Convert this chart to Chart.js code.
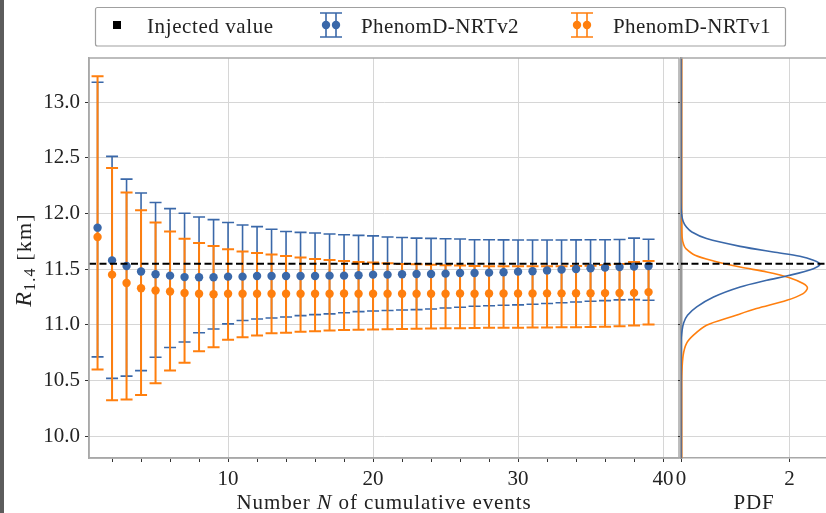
<!DOCTYPE html>
<html>
<head>
<meta charset="utf-8">
<script src="https://cdn.jsdelivr.net/npm/chart.js@4.4.1/dist/chart.umd.min.js"></script>
<style>
  html, body { margin: 0; padding: 0; background: #fff; overflow: hidden; }
  #wrap { position: relative; width: 826px; height: 513px; overflow: hidden; }
  #mainBox { position: absolute; left: 0; top: 0; }
  #pdfBox { position: absolute; left: 670px; top: 0; }
  #edge { position: absolute; left: 0; top: 0; width: 4px; height: 513px; background: #5c5c5c; }
</style>
</head>
<body>
<div id="wrap">
  <div id="mainBox"><canvas id="mainChart" width="826" height="513"></canvas></div>
  <div id="pdfBox"><canvas id="pdfChart" width="170" height="513"></canvas></div>
  <div id="edge"></div>
</div>
<script>
// number of cumulative events
const nEvents = [1, 2, 3, 4, 5, 6, 7, 8, 9, 10, 11, 12, 13, 14, 15, 16, 17, 18, 19, 20,
                 21, 22, 23, 24, 25, 26, 27, 28, 29, 30, 31, 32, 33, 34, 35, 36, 37, 38, 39];

// PhenomD-NRTv2 (blue)
const blueMean = [11.874, 11.58, 11.53, 11.48, 11.455, 11.443, 11.43, 11.428, 11.428, 11.434,
                  11.434, 11.44, 11.44, 11.44, 11.44, 11.44, 11.443, 11.443, 11.446, 11.452,
                  11.452, 11.455, 11.458, 11.458, 11.461, 11.467, 11.467, 11.47, 11.473, 11.479,
                  11.482, 11.49, 11.497, 11.503, 11.509, 11.515, 11.521, 11.524, 11.53];
const blueHigh = [13.18, 12.514, 12.31, 12.185, 12.10, 12.045, 12.003, 11.97, 11.946, 11.92,
                  11.898, 11.883, 11.86, 11.84, 11.832, 11.826, 11.817, 11.81, 11.805, 11.80,
                  11.79, 11.785, 11.78, 11.778, 11.775, 11.772, 11.766, 11.765, 11.764, 11.763,
                  11.763, 11.763, 11.763, 11.764, 11.765, 11.766, 11.768, 11.78, 11.77];
const blueLow = [10.713, 10.52, 10.54, 10.59, 10.71, 10.797, 10.847, 10.93, 10.964, 11.01,
                 11.04, 11.054, 11.063, 11.072, 11.084, 11.093, 11.10, 11.11, 11.12, 11.126,
                 11.13, 11.135, 11.138, 11.144, 11.153, 11.159, 11.168, 11.172, 11.177, 11.18,
                 11.186, 11.193, 11.20, 11.206, 11.213, 11.219, 11.225, 11.228, 11.222];

// PhenomD-NRTv1 (orange)
const orangeMean = [11.79, 11.452, 11.377, 11.33, 11.31, 11.30, 11.287, 11.28, 11.276, 11.28,
                    11.28, 11.28, 11.28, 11.281, 11.28, 11.281, 11.28, 11.282, 11.28, 11.28,
                    11.281, 11.28, 11.281, 11.28, 11.281, 11.282, 11.281, 11.282, 11.282, 11.283,
                    11.283, 11.284, 11.284, 11.285, 11.285, 11.286, 11.287, 11.288, 11.295];
const orangeHigh = [13.235, 12.41, 12.19, 12.03, 11.92, 11.84, 11.775, 11.736, 11.71, 11.68,
                    11.66, 11.646, 11.632, 11.62, 11.605, 11.593, 11.584, 11.575, 11.566, 11.56,
                    11.554, 11.548, 11.545, 11.54, 11.537, 11.535, 11.53, 11.528, 11.527, 11.527,
                    11.527, 11.527, 11.528, 11.53, 11.533, 11.538, 11.548, 11.566, 11.575];
const orangeLow = [10.60, 10.324, 10.33, 10.37, 10.477, 10.59, 10.66, 10.764, 10.80, 10.868,
                   10.89, 10.905, 10.925, 10.93, 10.938, 10.944, 10.95, 10.955, 10.958, 10.96,
                   10.962, 10.964, 10.966, 10.968, 10.97, 10.97, 10.972, 10.974, 10.975, 10.976,
                   10.977, 10.978, 10.979, 10.98, 10.982, 10.985, 10.988, 10.995, 11.004];

const injectedValue = 11.55;

// marginal PDFs (radius, density)
const pdfRadiusBlue = [13.4, 12.1, 12.0, 11.93, 11.88, 11.835, 11.776, 11.706, 11.655, 11.617,
                       11.581, 11.545, 11.506, 11.446, 11.401, 11.341, 11.251, 11.162, 11.087,
                       11.02, 10.952, 10.85, 9.8];
const pdfBlue = [0, 0, 0.01, 0.04, 0.1, 0.2, 0.47, 1.09, 1.70, 2.19,
                 2.44, 2.56, 2.44, 2.0, 1.58, 1.09, 0.6, 0.29, 0.12,
                 0.05, 0.02, 0, 0];
const pdfRadiusOrange = [13.4, 12.0, 11.79, 11.72, 11.686, 11.626, 11.575, 11.52, 11.476, 11.425,
                         11.372, 11.332, 11.282, 11.222, 11.147, 11.078, 10.997, 10.908, 10.833,
                         10.728, 10.564, 10.4, 9.8];
const pdfOrange = [0.012, 0.012, 0.02, 0.05, 0.09, 0.26, 0.6, 1.09, 1.58, 2.0,
                   2.25, 2.33, 2.25, 1.95, 1.39, 0.96, 0.47, 0.23, 0.10,
                   0.04, 0.015, 0.012, 0.012];

// axis ticks
const xTicks = [2, 4, 6, 8, 10, 12, 14, 16, 18, 20, 22, 24, 26, 28, 30, 32, 34, 36, 38, 40];
const yTicks = [10.0, 10.5, 11.0, 11.5, 12.0, 12.5, 13.0];
const pdfTicks = [0, 2];

const BLUE = '#3a68a9';
const ORANGE = '#ff7f0e';
const GRID = '#d6d6d6';
const SPINE = '#a8a8a8';
const TICK = '#333';
const TEXT = '#222';
const FONT = '"Liberation Serif", "DejaVu Serif", serif';
const Y_MIN = 9.805, Y_MAX = 13.398;

function fontStr(r) {
  return (r.italic ? 'italic ' : '') + (r.size || 21) + 'px ' + FONT;
}

function drawRuns(ctx, runs, x, y, align, spacing) {
  ctx.letterSpacing = (spacing || 0) + 'px';
  let total = 0;
  runs.forEach(r => { ctx.font = fontStr(r); r.w = ctx.measureText(r.t).width; total += r.w; });
  let cx = align === 'center' ? x - total / 2 : x;
  runs.forEach(r => {
    ctx.font = fontStr(r);
    ctx.fillText(r.t, cx, y + (r.dy || 0));
    cx += r.w;
  });
  ctx.letterSpacing = '0px';
}

function injectedLine(chart) {
  const { ctx, chartArea, scales } = chart;
  const py = scales.y.getPixelForValue(injectedValue);
  ctx.save();
  ctx.strokeStyle = '#000';
  ctx.lineWidth = 2;
  ctx.setLineDash([7, 3.5]);
  ctx.beginPath();
  ctx.moveTo(chartArea.left, py);
  ctx.lineTo(chartArea.right, py);
  ctx.stroke();
  ctx.restore();
}

const errorBars = {
  id: 'errorBars',
  beforeDatasetsDraw(chart) {
    const { ctx, chartArea, scales: { x, y } } = chart;
    ctx.save();
    ctx.beginPath();
    ctx.rect(chartArea.left, chartArea.top, chartArea.width, chartArea.height);
    ctx.clip();
    [[blueLow, blueHigh, BLUE, 1.6], [orangeLow, orangeHigh, ORANGE, 2]].forEach(([lo, hi, col, lw]) => {
      ctx.strokeStyle = col;
      ctx.lineWidth = lw;
      ctx.beginPath();
      nEvents.forEach((n, i) => {
        const px = x.getPixelForValue(n);
        const top = y.getPixelForValue(hi[i]);
        const bot = y.getPixelForValue(lo[i]);
        ctx.moveTo(px, top); ctx.lineTo(px, bot);
        ctx.moveTo(px - 6, top); ctx.lineTo(px + 6, top);
        ctx.moveTo(px - 6, bot); ctx.lineTo(px + 6, bot);
      });
      ctx.stroke();
    });
    ctx.restore();
  },
  afterDatasetsDraw(chart) {
    injectedLine(chart);
  },
  afterDraw(chart) {
    const { ctx, chartArea } = chart;
    ctx.save();
    // frame
    ctx.strokeStyle = SPINE;
    ctx.lineWidth = 1.5;
    ctx.strokeRect(chartArea.left, chartArea.top, chartArea.width, chartArea.height);

    // legend
    ctx.fillStyle = '#fff';
    ctx.strokeStyle = '#a0a0a0';
    ctx.lineWidth = 1.2;
    ctx.beginPath();
    ctx.roundRect(95.5, 7.5, 690, 38.5, 2);
    ctx.fill();
    ctx.stroke();
    ctx.fillStyle = '#000';
    ctx.fillRect(113, 21, 8, 8);
    [[326, 336, BLUE], [577, 587, ORANGE]].forEach(([a, b, col]) => {
      ctx.strokeStyle = col;
      ctx.fillStyle = col;
      ctx.lineWidth = 1.6;
      ctx.beginPath();
      [a, b].forEach(px => { ctx.moveTo(px, 13); ctx.lineTo(px, 37); });
      ctx.moveTo(a - 6, 13); ctx.lineTo(b + 6, 13);
      ctx.moveTo(a - 6, 37); ctx.lineTo(b + 6, 37);
      ctx.stroke();
      [a, b].forEach(px => { ctx.beginPath(); ctx.arc(px, 25, 4.2, 0, Math.PI * 2); ctx.fill(); });
    });
    ctx.fillStyle = TEXT;
    ctx.textBaseline = 'alphabetic';
    ctx.textAlign = 'left';
    drawRuns(ctx, [{ t: 'Injected value' }], 147, 33, 'left', 0.6);
    drawRuns(ctx, [{ t: 'PhenomD-NRTv2' }], 361, 33, 'left', 0.4);
    drawRuns(ctx, [{ t: 'PhenomD-NRTv1' }], 613, 33, 'left', 0.4);

    // axis titles
    drawRuns(ctx, [{ t: 'Number ' }, { t: 'N', italic: true, size: 22 }, { t: ' of cumulative events' }],
      (chartArea.left + chartArea.right) / 2, 509, 'center', 0.9);
    ctx.translate(31, 260);
    ctx.rotate(-Math.PI / 2);
    drawRuns(ctx, [{ t: 'R', italic: true, size: 24 }, { t: '1.4', size: 16, dy: 4 }, { t: ' [km]', size: 22 }],
      0, 0, 'center', 1.2);
    ctx.restore();
  }
};

const pdfExtras = {
  id: 'pdfExtras',
  afterDatasetsDraw(chart) {
    injectedLine(chart);
  },
  afterDraw(chart) {
    const { ctx, chartArea } = chart;
    ctx.save();
    ctx.strokeStyle = SPINE;
    ctx.lineWidth = 1.5;
    ctx.beginPath();
    ctx.moveTo(chartArea.left, chartArea.top);
    ctx.lineTo(chartArea.right, chartArea.top);
    ctx.stroke();
    ctx.fillStyle = TEXT;
    drawRuns(ctx, [{ t: 'PDF' }], (chartArea.left + chartArea.right) / 2, 509, 'center', 0.8);
    ctx.restore();
  }
};

const tickFont = { family: FONT, size: 21 };

new Chart(document.getElementById('mainChart').getContext('2d'), {
  type: 'scatter',
  data: {
    datasets: [
      {
        label: 'PhenomD-NRTv2',
        data: nEvents.map((n, i) => ({ x: n, y: blueMean[i] })),
        pointRadius: 4.2,
        pointBorderWidth: 0,
        pointBackgroundColor: BLUE
      },
      {
        label: 'PhenomD-NRTv1',
        data: nEvents.map((n, i) => ({ x: n, y: orangeMean[i] })),
        pointRadius: 4.2,
        pointBorderWidth: 0,
        pointBackgroundColor: ORANGE
      }
    ]
  },
  options: {
    responsive: false,
    animation: false,
    layout: { padding: { top: 58, right: 147, left: 0, bottom: 0 } },
    plugins: { legend: { display: false }, tooltip: { enabled: false } },
    scales: {
      x: {
        type: 'linear',
        min: 0.41,
        max: 41.1,
        afterBuildTicks: s => { s.ticks = xTicks.map(v => ({ value: v })); },
        afterFit: s => { s.height = 55; },
        ticks: {
          autoSkip: false,
          maxRotation: 0,
          padding: 5,
          color: TEXT,
          font: tickFont,
          callback: v => (v % 10 === 0 ? String(v) : '')
        },
        grid: {
          color: c => (c.tick && c.tick.value % 10 === 0 ? GRID : 'rgba(0,0,0,0)'),
          tickColor: TICK,
          tickLength: 4
        },
        border: { display: true, color: SPINE, width: 1.5 }
      },
      y: {
        min: Y_MIN,
        max: Y_MAX,
        afterBuildTicks: s => { s.ticks = yTicks.map(v => ({ value: v })); },
        afterFit: s => { s.width = 89; },
        ticks: {
          padding: 5,
          color: TEXT,
          font: tickFont,
          callback: v => v.toFixed(1)
        },
        grid: { color: GRID, tickColor: TICK, tickLength: 4 },
        border: { display: true, color: SPINE, width: 1.5 }
      }
    }
  },
  plugins: [errorBars]
});

new Chart(document.getElementById('pdfChart').getContext('2d'), {
  type: 'scatter',
  data: {
    datasets: [
      {
        label: 'PhenomD-NRTv2',
        data: pdfRadiusBlue.map((r, i) => ({ x: pdfBlue[i], y: r })),
        showLine: true,
        borderColor: BLUE,
        borderWidth: 1.6,
        pointRadius: 0,
        tension: 0.3
      },
      {
        label: 'PhenomD-NRTv1',
        data: pdfRadiusOrange.map((r, i) => ({ x: pdfOrange[i], y: r })),
        showLine: true,
        borderColor: ORANGE,
        borderWidth: 1.6,
        pointRadius: 0,
        tension: 0.3
      }
    ]
  },
  options: {
    responsive: false,
    animation: false,
    layout: { padding: { top: 58, right: 13, left: 0, bottom: 0 } },
    plugins: { legend: { display: false }, tooltip: { enabled: false } },
    scales: {
      x: {
        type: 'linear',
        min: 0,
        max: 2.69,
        afterBuildTicks: s => { s.ticks = pdfTicks.map(v => ({ value: v })); },
        afterFit: s => { s.height = 55; },
        ticks: { autoSkip: false, maxRotation: 0, padding: 5, color: TEXT, font: tickFont },
        grid: {
          color: c => (c.tick && c.tick.value === 0 ? 'rgba(0,0,0,0)' : GRID),
          tickColor: TICK,
          tickLength: 4
        },
        border: { display: true, color: SPINE, width: 1.5 }
      },
      y: {
        min: Y_MIN,
        max: Y_MAX,
        afterBuildTicks: s => { s.ticks = yTicks.map(v => ({ value: v })); },
        afterFit: s => { s.width = 11; },
        ticks: { display: false },
        grid: { color: GRID, tickColor: TICK, tickLength: 3 },
        border: { display: true, color: '#999', width: 2.5 }
      }
    }
  },
  plugins: [pdfExtras]
});
</script>
</body>
</html>
